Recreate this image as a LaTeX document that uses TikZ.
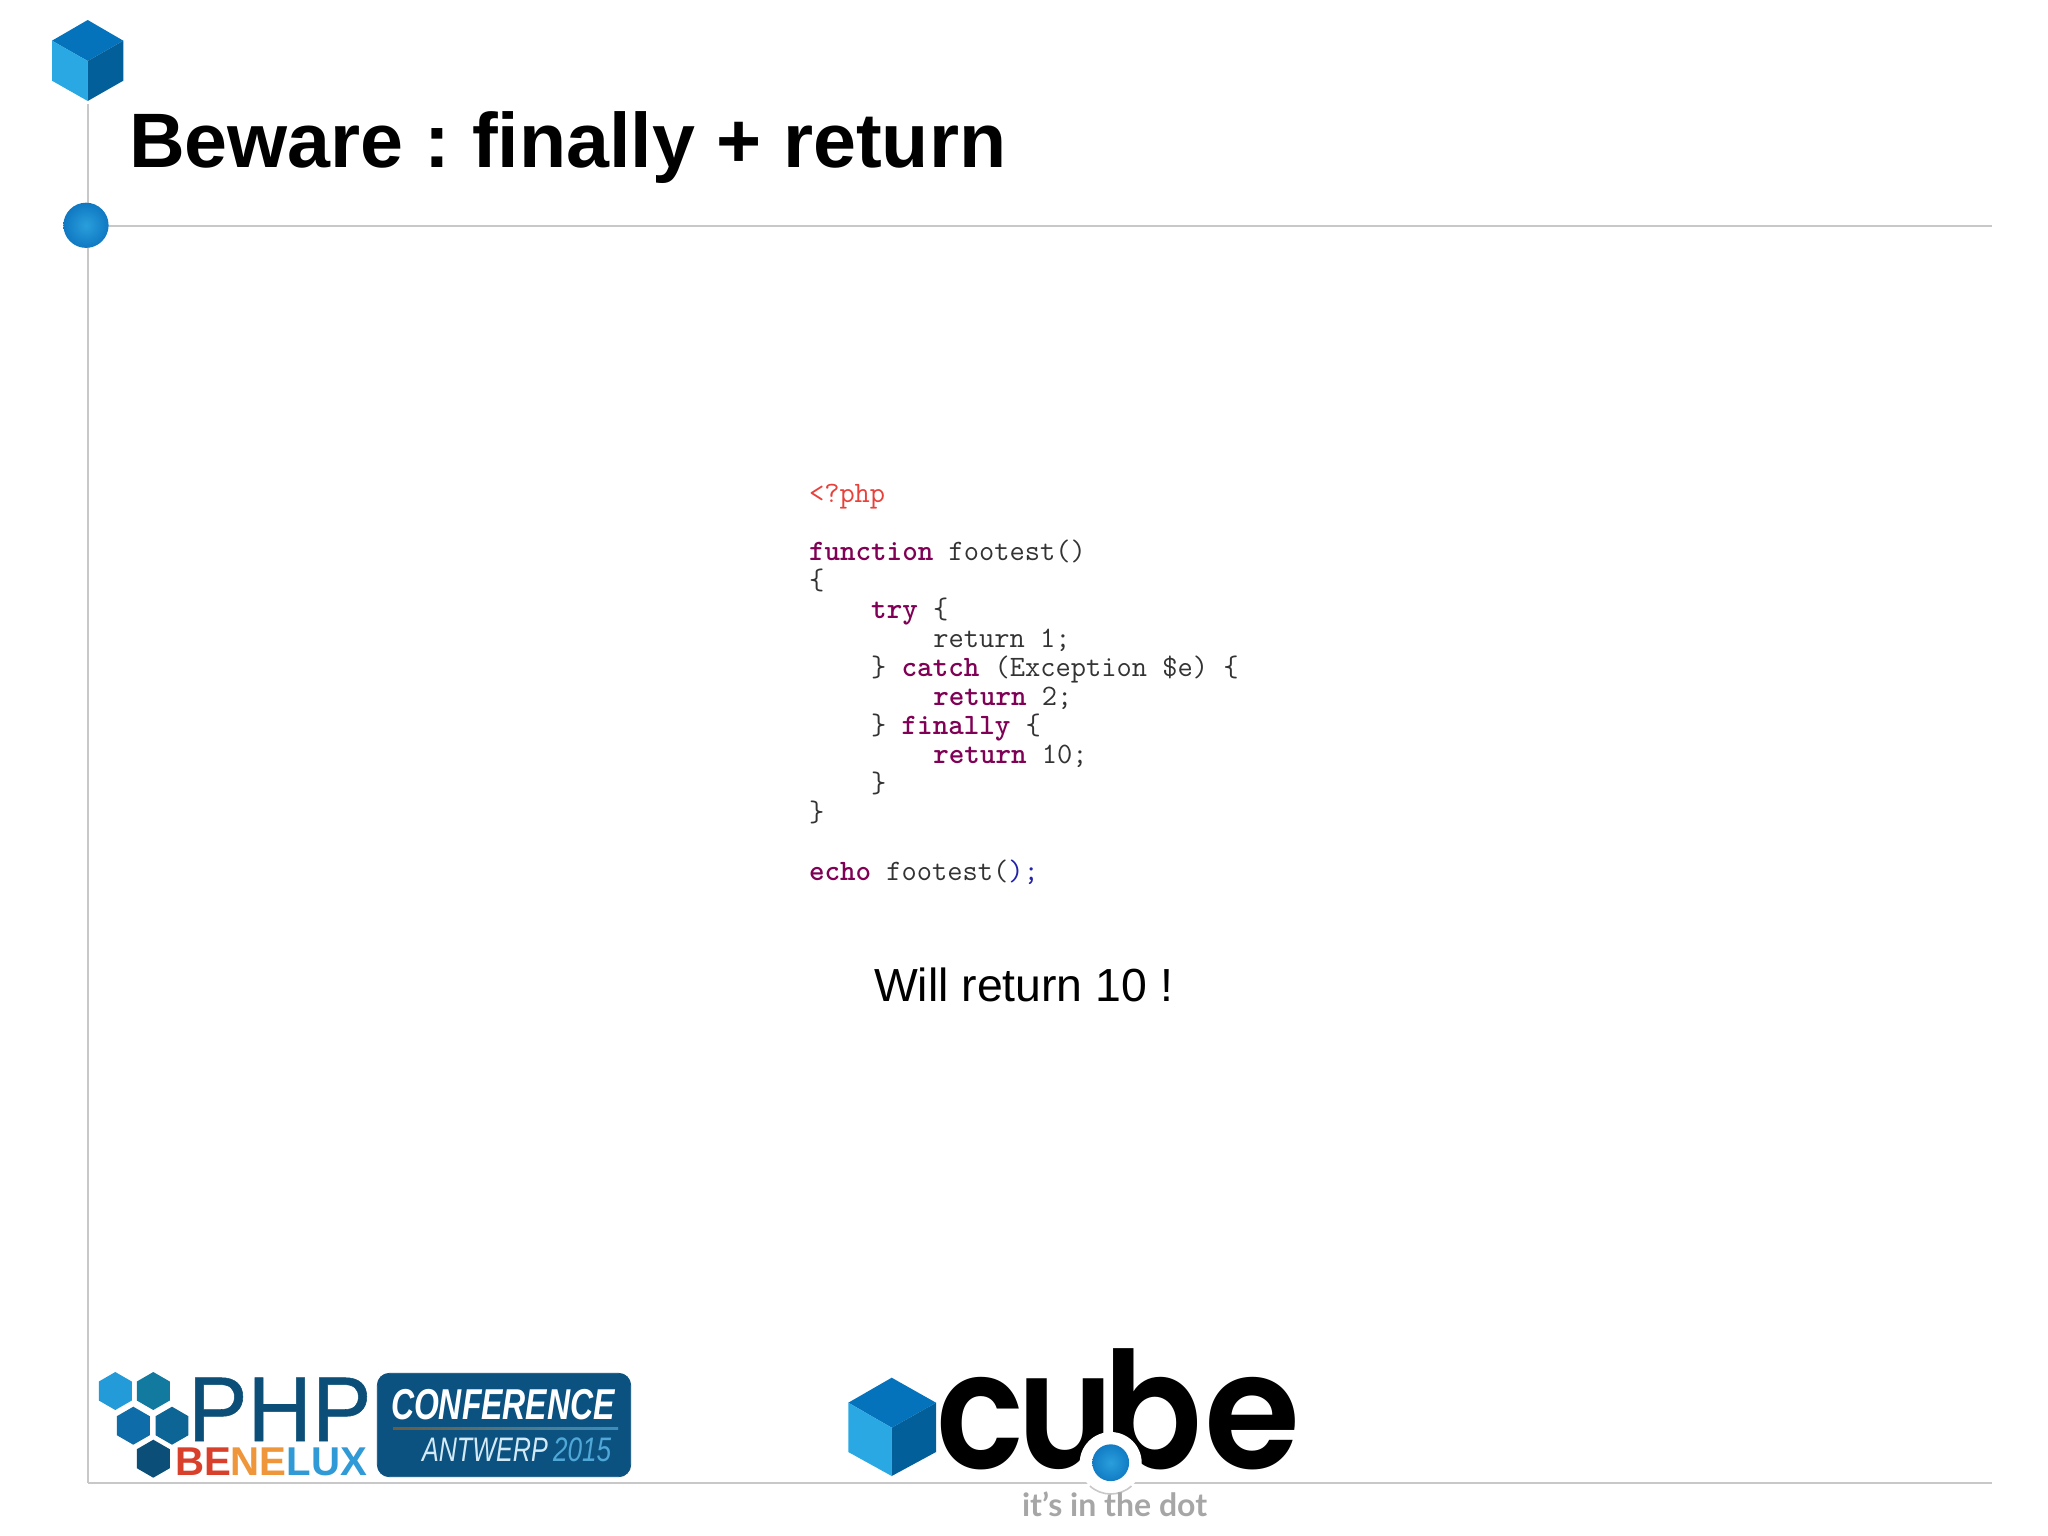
\documentclass[tikz,border=0pt]{standalone}
\usepackage{fontspec}
\usepackage{graphicx}
\setmainfont{Liberation Sans}
\newfontfamily\poppfont{Poppins SemiBold}
\newfontfamily\latofont{Lato}
\newfontfamily\phpfont[FakeBold=0.6]{Liberation Sans}
\usetikzlibrary{shapes.geometric}
\definecolor{rulegray}{HTML}{C8C8C8}
\definecolor{cubetop}{HTML}{0573BC}
\definecolor{cubeleft}{HTML}{29A8E3}
\definecolor{cuberight}{HTML}{035F99}
\definecolor{dotin}{HTML}{2A9FDC}
\definecolor{dotout}{HTML}{0F78C2}
\definecolor{kw}{HTML}{7F0055}
\definecolor{plain}{HTML}{333333}
\definecolor{phpred}{HTML}{E8403A}
\definecolor{phpblue}{HTML}{2222AA}
\definecolor{phpnavy}{HTML}{0B4F78}
\definecolor{boxblue}{HTML}{0B5280}
\definecolor{benred}{HTML}{D9402B}
\definecolor{benorange}{HTML}{EF953A}
\definecolor{benblue}{HTML}{2F9AD6}
\definecolor{hexa}{HTML}{229BD8}
\definecolor{hexb}{HTML}{12799F}
\definecolor{hexc}{HTML}{0E6DA9}
\definecolor{hexd}{HTML}{0D6596}
\definecolor{hexe}{HTML}{0B4F78}
\definecolor{slogan}{HTML}{A6A6A6}
\definecolor{antw}{HTML}{D3EAF6}
\definecolor{yr}{HTML}{4FA8D8}
\newcommand{\K}[1]{\textcolor{kw}{\bfseries #1}}
\newcommand{\OB}{\{}
\newcommand{\CB}{\}}
\frenchspacing
\tikzset{
  txt/.style={anchor=base west,inner sep=0pt,outer sep=0pt},
  codeline/.style={txt,text=plain,font=\ttfamily\fontsize{14.8}{14.8}\selectfont},
  rule/.style={draw=rulegray,line width=1pt},
  hexcell/.style={shape=regular polygon,regular polygon sides=6,shape border rotate=30,minimum size=19pt,inner sep=0pt,outer sep=0pt,draw=none},
  logoletter/.style={txt,text=black,font=\poppfont\fontsize{81}{81}\selectfont},
}
\newcommand{\cubeicon}[8]{% x left, x mid, x right, y top, y up, y centre, y low, y bottom
  \fill[cubetop] (#2,#4) -- (#3,#5) -- (#2,#6) -- (#1,#5) -- cycle;
  \fill[cubeleft] (#1,#5) -- (#2,#6) -- (#2,#8) -- (#1,#7) -- cycle;
  \fill[cuberight] (#3,#5) -- (#2,#6) -- (#2,#8) -- (#3,#7) -- cycle;
}
\begin{document}
\begin{tikzpicture}[x=0.5pt,y=-0.5pt]
\useasboundingbox (0,0) rectangle (2048,1535);
\fill[white] (0,0) rectangle (2048,1535);

% frame
\coordinate (vtop) at (87.5,104);
\coordinate (vbot) at (87.5,1483);
\coordinate (htopl) at (108,226.5);
\coordinate (htopr) at (1992,226.5);
\coordinate (hbotl) at (87.5,1483);
\coordinate (hbotr) at (1992,1483);
\draw[rule] (vtop) -- (vbot);
\draw[rule] (htopl) -- (htopr);
\draw[rule] (hbotl) -- (hbotr);

% top cube and dot
\cubeicon{52}{87.7}{123.3}{20}{40.7}{61}{80.7}{101}
\shade[inner color=dotin,outer color=dotout] (86,225.3) circle[radius=11.3pt];

% title
\node[txt,font=\bfseries\fontsize{38.6}{38.6}\selectfont] (title) at (129,168) {Beware : finally + return};

% code
\node[codeline] (l0) at (809,502) {\textcolor{phpred}{<?php}};
\node[codeline] (l2) at (809,560.2) {\K{function} footest()};
\node[codeline] (l3) at (809,589.2) {\OB};
\node[codeline] (l4) at (871.2,618.3) {\K{try} \OB};
\node[codeline] (l5) at (933.4,647.4) {return 1;};
\node[codeline] (l6) at (871.2,676.5) {\CB{} \K{catch} (Exception \$e) \OB};
\node[codeline] (l7) at (933.4,705.6) {\K{return} 2;};
\node[codeline] (l8) at (871.2,734.7) {\CB{} \K{finally} \OB};
\node[codeline] (l9) at (933.4,763.8) {\K{return} 10;};
\node[codeline] (l10) at (871.2,792.8) {\CB};
\node[codeline] (l11) at (809,821.9) {\CB};
\node[codeline] (l13) at (809,880) {\K{echo} footest(\textcolor{phpblue}{);}};

\node[txt,font=\fontsize{23.2}{23.2}\selectfont,text=black] (will) at (874,1001.5) {Will return 10 !};

% PHP Benelux logo
\node[hexcell,fill=hexa] (h1) at (115.3,1391) {};
\node[hexcell,fill=hexb] (h2) at (153.3,1391) {};
\node[hexcell,fill=hexc] (h3) at (133.3,1425.7) {};
\node[hexcell,fill=hexd] (h4) at (172,1425.7) {};
\node[hexcell,fill=hexe] (h5) at (153.3,1458.7) {};
\node[txt,text=phpnavy,font=\phpfont\fontsize{46}{46}\selectfont] (php) at (188,1441) {\scalebox{.97}[1]{PHP}};
\node[txt,font=\bfseries\fontsize{20.1}{20.1}\selectfont] (benelux) at (175,1475.7) {\textcolor{benred}{BE}\textcolor{benorange}{NE}\textcolor{benblue}{LUX}};
\draw[boxblue,fill=boxblue,rounded corners=6pt] (377.3,1373.3) rectangle (630.7,1476.7);
\node[txt,text=white,font=\bfseries\itshape\fontsize{21.6}{21.6}\selectfont] (conf) at (391,1419) {\scalebox{.74}[1]{CONFERENCE}};
\shade[left color=black!20!orange!50!boxblue,right color=yr!70!boxblue] (393,1427) rectangle (618,1429);
\node[txt,text=antw,font=\itshape\fontsize{17}{17}\selectfont] (antwerp) at (422,1461.7) {\scalebox{.74}[1]{ANTWERP}};
\node[txt,text=yr,font=\itshape\fontsize{17}{17}\selectfont] (year) at (553,1461.7) {\scalebox{.77}[1]{2015}};

% cube logo
\cubeicon{848.3}{891.7}{936}{1377.7}{1402.7}{1427.7}{1452}{1476}
\node[logoletter] (c) at (936,1468) {\scalebox{.9}[1]{c}};
\node[logoletter] (u) at (1017,1468) {\scalebox{.9}[1]{u}};
\node[logoletter] (b) at (1103,1468) {\scalebox{.9}[1]{b}};
\node[logoletter] (e) at (1204,1468) {\scalebox{.96}[1]{e}};
\fill[white] (1110.7,1463) circle[radius=15.5pt];
\draw[rulegray,line width=.8pt] (1110.7,1463) ++(228:15.5pt) arc[start angle=228,end angle=312,radius=15.5pt];
\shade[inner color=dotin,outer color=dotout!90!dotin] (1110.7,1462.7) circle[radius=9.2pt];
\node[txt,text=slogan,font=\latofont\bfseries\fontsize{16}{16}\selectfont] (slogan) at (1022,1516) {it’s in the dot};
\end{tikzpicture}
\end{document}
